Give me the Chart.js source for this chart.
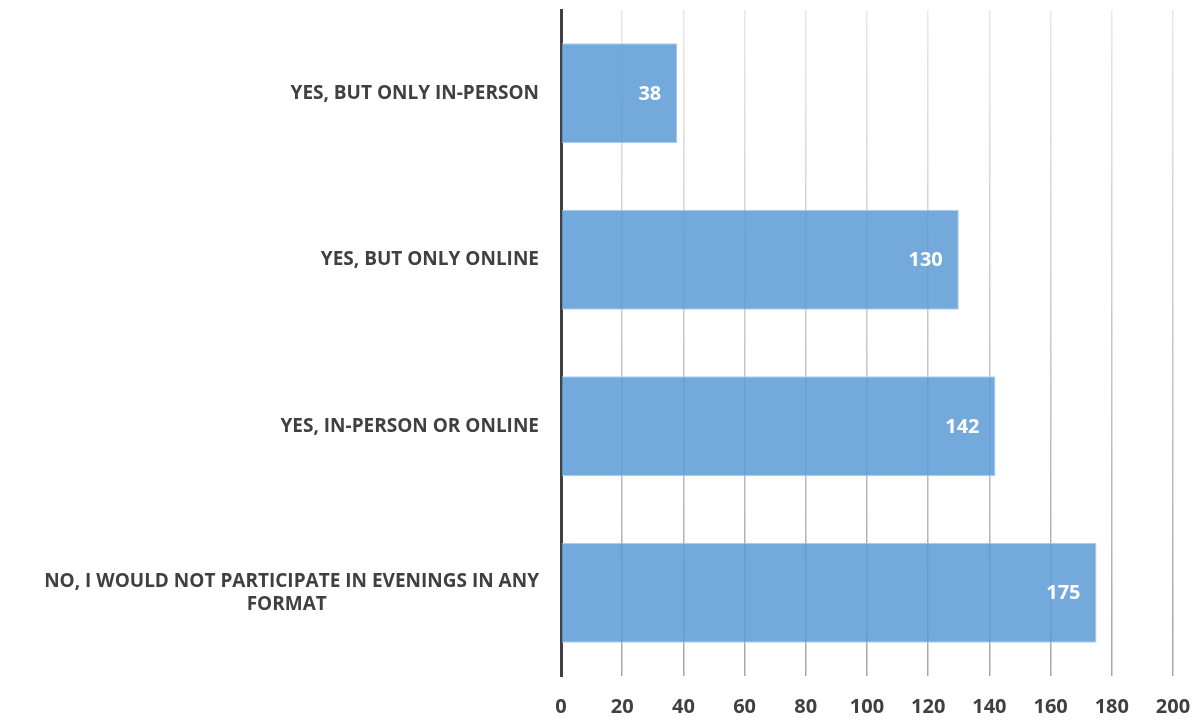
<!DOCTYPE html>
<html>
<head>
<meta charset="utf-8">
<script src="https://cdn.jsdelivr.net/npm/chart.js@4"></script>
<style>
  html, body { margin: 0; padding: 0; background: #fff; }
  #wrap { width: 1201px; height: 721px; }
</style>
</head>
<body>
<div id="wrap"><canvas id="evChart"></canvas></div>
<script>
// categories (top to bottom) and counts
var categories = [
  "YES, BUT ONLY IN-PERSON",
  "YES, BUT ONLY ONLINE",
  "YES, IN-PERSON OR ONLINE",
  ["NO, I WOULD NOT PARTICIPATE IN EVENINGS IN ANY", "FORMAT"]
];
var counts = [38, 130, 142, 175];
var xTicks = [0, 20, 40, 60, 80, 100, 120, 140, 160, 180, 200];

var FONT = "'Open Sans'";
var TEXT = "#404040";
var LBL_SIZE = 19;

// centre the 2nd line of a wrapped label under the 1st (labels are right aligned)
function centreLines(lbl, ctx) {
  if (!Array.isArray(lbl)) return lbl;
  var w0 = ctx.measureText(lbl[0]).width;
  var out = [lbl[0]];
  for (var i = 1; i < lbl.length; i++) {
    var s = lbl[i];
    var target = w0 - (w0 - ctx.measureText(lbl[i]).width) / 2;
    while (ctx.measureText(s).width < target) s += " ";
    out.push(s);
  }
  return out;
}

var mctx = document.createElement("canvas").getContext("2d");
mctx.font = "bold " + LBL_SIZE + "px " + FONT;
var yLabels = categories.map(function(l){ return centreLines(l, mctx); });

// white value labels inside the end of each bar
var valueLabels = {
  id: "valueLabels",
  afterDatasetsDraw: function(chart) {
    var ctx = chart.ctx;
    var meta = chart.getDatasetMeta(0);
    ctx.save();
    ctx.font = "bold 20px " + FONT;
    ctx.fillStyle = "#ffffff";
    ctx.textAlign = "right";
    ctx.textBaseline = "middle";
    meta.data.forEach(function(bar, i) {
      ctx.fillText(counts[i], bar.x - 16, bar.y + 1);
    });
    ctx.restore();
  }
};

var gridGrad = null;
function gridColor(c) {
  var area = c.chart.chartArea;
  if (!area) return "#d0d0d0";
  if (!gridGrad) {
    gridGrad = c.chart.ctx.createLinearGradient(0, area.top, 0, area.bottom);
    gridGrad.addColorStop(0, "#e8e8e8");
    gridGrad.addColorStop(1, "#a6a6a6");
  }
  return gridGrad;
}

new Chart(document.getElementById("evChart"), {
  type: "bar",
  data: {
    labels: yLabels,
    datasets: [{
      data: counts,
      backgroundColor: "rgba(91,155,213,0.85)",
      borderColor: "rgba(170,205,236,1)",
      borderWidth: 1,
      barPercentage: 0.6,
      categoryPercentage: 1
    }]
  },
  options: {
    indexAxis: "y",
    responsive: true,
    maintainAspectRatio: false,
    animation: false,
    layout: { padding: { top: 10, right: 28, left: 0, bottom: 0 } },
    plugins: { legend: { display: false }, tooltip: { enabled: false } },
    scales: {
      x: {
        min: 0, max: 200,
        afterBuildTicks: function(s){ s.ticks = xTicks.map(function(v){ return {value: v}; }); },
        afterFit: function(s){ s.height = 45; s.paddingLeft = 0; s.paddingRight = 0; },
        grid: { color: gridColor, lineWidth: 1.5, drawTicks: false },
        border: { display: false },
        ticks: { color: TEXT, font: { family: FONT, size: 20, weight: "bold" }, padding: 19, maxRotation: 0 }
      },
      y: {
        afterFit: function(s){ s.width = 561; s.paddingTop = 0; s.paddingBottom = 0; },
        grid: { display: false, drawTicks: false },
        border: { display: true, color: "#404040", width: 3 },
        ticks: { color: TEXT, font: { family: FONT, size: LBL_SIZE, weight: "bold" }, padding: 22, crossAlign: "near" }
      }
    }
  },
  plugins: [valueLabels]
});
</script>
</body>
</html>
